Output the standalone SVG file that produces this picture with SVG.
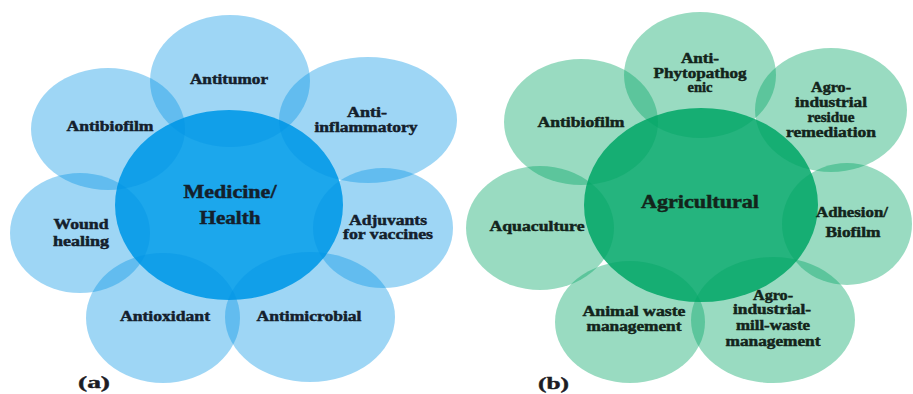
<svg xmlns="http://www.w3.org/2000/svg" width="913" height="394" viewBox="0 0 913 394">
  <style>
    .lbl { font-family: "Liberation Serif", "Times New Roman", Times, serif; font-weight: bold; font-size: 14px; text-anchor: middle; stroke-width: 0.45; }
    .hub-lbl { font-size: 18px; }
    .tag { font-family: "Liberation Serif", "Times New Roman", Times, serif; font-weight: bold; font-size: 17px; fill: #1c1c24; stroke: #1c1c24; stroke-width: 0.4; }
    #panel-a .lbl { fill: #14202c; stroke: #14202c; }
    #panel-b .lbl { fill: #13241b; stroke: #13241b; }
    .hub-a { fill: #1ca7ec; }
    .petal-a { fill: #0092e4; fill-opacity: 0.38; }
    .hub-b { fill: #25b47e; }
    .petal-b { fill: #00a463; fill-opacity: 0.4; }
  </style>
  <rect width="913" height="394" fill="#ffffff"/>

  <!-- (a) Medicine / Health -->
  <g id="panel-a">
    <g id="hub-medicine">
      <ellipse class="hub-a" cx="229" cy="205" rx="114" ry="95"/>
    </g>
    <g id="a-antitumor">
      <ellipse class="petal-a" cx="230" cy="81" rx="80" ry="66"/>
    </g>
    <g id="a-antiinflammatory">
      <ellipse class="petal-a" cx="368" cy="120" rx="89" ry="63"/>
    </g>
    <g id="a-adjuvants">
      <ellipse class="petal-a" cx="383" cy="228" rx="70" ry="60"/>
    </g>
    <g id="a-antimicrobial">
      <ellipse class="petal-a" cx="310" cy="317" rx="85" ry="65"/>
    </g>
    <g id="a-antioxidant">
      <ellipse class="petal-a" cx="163" cy="318" rx="77" ry="65"/>
    </g>
    <g id="a-wound">
      <ellipse class="petal-a" cx="80" cy="233" rx="70" ry="60"/>
    </g>
    <g id="a-antibiofilm">
      <ellipse class="petal-a" cx="108" cy="129" rx="77" ry="61"/>
    </g>

    <g id="a-labels">
      <text class="lbl hub-lbl" x="230" y="198" textLength="93" lengthAdjust="spacingAndGlyphs">Medicine/</text>
      <text class="lbl hub-lbl" x="230" y="224" textLength="61" lengthAdjust="spacingAndGlyphs">Health</text>
      <text class="lbl" x="229" y="84" textLength="78" lengthAdjust="spacingAndGlyphs">Antitumor</text>
      <text class="lbl" x="367" y="117" textLength="40" lengthAdjust="spacingAndGlyphs">Anti-</text>
      <text class="lbl" x="366" y="132" textLength="103" lengthAdjust="spacingAndGlyphs">inflammatory</text>
      <text class="lbl" x="388" y="225" textLength="78" lengthAdjust="spacingAndGlyphs">Adjuvants</text>
      <text class="lbl" x="388" y="239" textLength="90" lengthAdjust="spacingAndGlyphs">for vaccines</text>
      <text class="lbl" x="309" y="321" textLength="105" lengthAdjust="spacingAndGlyphs">Antimicrobial</text>
      <text class="lbl" x="165" y="321" textLength="90" lengthAdjust="spacingAndGlyphs">Antioxidant</text>
      <text class="lbl" x="81" y="229" textLength="55" lengthAdjust="spacingAndGlyphs">Wound</text>
      <text class="lbl" x="81" y="246" textLength="56" lengthAdjust="spacingAndGlyphs">healing</text>
      <text class="lbl" x="110" y="131" textLength="87" lengthAdjust="spacingAndGlyphs">Antibiofilm</text>
    </g>
    <text class="tag" x="78" y="388" textLength="32" lengthAdjust="spacingAndGlyphs">(a)</text>
  </g>

  <!-- (b) Agricultural -->
  <g id="panel-b">
    <g id="hub-agricultural">
      <ellipse class="hub-b" cx="701" cy="205" rx="117" ry="97"/>
    </g>
    <g id="b-antiphyto">
      <ellipse class="petal-b" cx="700" cy="75" rx="76" ry="63"/>
    </g>
    <g id="b-residue">
      <ellipse class="petal-b" cx="831" cy="110" rx="76" ry="62"/>
    </g>
    <g id="b-adhesion">
      <ellipse class="petal-b" cx="847" cy="224" rx="65" ry="61"/>
    </g>
    <g id="b-millwaste">
      <ellipse class="petal-b" cx="773" cy="320" rx="82" ry="63"/>
    </g>
    <g id="b-animalwaste">
      <ellipse class="petal-b" cx="630" cy="322" rx="75" ry="61"/>
    </g>
    <g id="b-aquaculture">
      <ellipse class="petal-b" cx="540" cy="228" rx="74" ry="62"/>
    </g>
    <g id="b-antibiofilm">
      <ellipse class="petal-b" cx="581" cy="122" rx="77" ry="63"/>
    </g>

    <g id="b-labels">
      <text class="lbl hub-lbl" x="700" y="208" textLength="118" lengthAdjust="spacingAndGlyphs">Agricultural</text>
      <text class="lbl" x="700" y="63" textLength="38" lengthAdjust="spacingAndGlyphs">Anti-</text>
      <text class="lbl" x="700" y="78" textLength="93" lengthAdjust="spacingAndGlyphs">Phytopathog</text>
      <text class="lbl" x="700" y="92" textLength="25" lengthAdjust="spacingAndGlyphs">enic</text>
      <text class="lbl" x="831" y="92" textLength="40" lengthAdjust="spacingAndGlyphs">Agro-</text>
      <text class="lbl" x="831" y="107" textLength="72" lengthAdjust="spacingAndGlyphs">industrial</text>
      <text class="lbl" x="831" y="122" textLength="47" lengthAdjust="spacingAndGlyphs">residue</text>
      <text class="lbl" x="831" y="137" textLength="90" lengthAdjust="spacingAndGlyphs">remediation</text>
      <text class="lbl" x="852" y="217" textLength="72" lengthAdjust="spacingAndGlyphs">Adhesion/</text>
      <text class="lbl" x="853" y="237" textLength="55" lengthAdjust="spacingAndGlyphs">Biofilm</text>
      <text class="lbl" x="773" y="300" textLength="40" lengthAdjust="spacingAndGlyphs">Agro-</text>
      <text class="lbl" x="772" y="314" textLength="78" lengthAdjust="spacingAndGlyphs">industrial-</text>
      <text class="lbl" x="773" y="330" textLength="74" lengthAdjust="spacingAndGlyphs">mill-waste</text>
      <text class="lbl" x="773" y="346" textLength="95" lengthAdjust="spacingAndGlyphs">management</text>
      <text class="lbl" x="634" y="316" textLength="103" lengthAdjust="spacingAndGlyphs">Animal waste</text>
      <text class="lbl" x="634" y="331" textLength="95" lengthAdjust="spacingAndGlyphs">management</text>
      <text class="lbl" x="537" y="231" textLength="95" lengthAdjust="spacingAndGlyphs">Aquaculture</text>
      <text class="lbl" x="581" y="127" textLength="87" lengthAdjust="spacingAndGlyphs">Antibiofilm</text>
    </g>
    <text class="tag" x="538" y="389" textLength="31" lengthAdjust="spacingAndGlyphs">(b)</text>
  </g>
</svg>
